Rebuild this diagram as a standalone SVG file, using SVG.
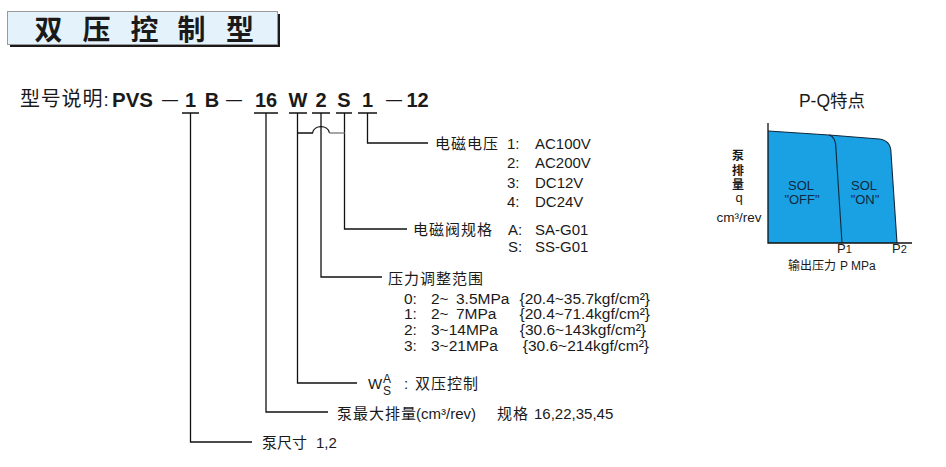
<svg xmlns="http://www.w3.org/2000/svg" width="946" height="467" viewBox="0 0 946 467">
<style>
.cjk{font-family:'Noto Sans CJK SC','Noto Sans CJK JP',sans-serif;fill:#1a1a1a}
.lat{font-family:'Liberation Sans',Arial,'Noto Sans CJK SC',sans-serif;fill:#1a1a1a}
.f15{font-size:15px}
.f13{font-size:13px}
.f12{font-size:12px}
.ls{letter-spacing:1px}
.big{font-size:20px;font-weight:bold}
.ln{stroke:#111;stroke-width:1.3;fill:none}
.cl{stroke:#10283c;stroke-width:1.1;fill:none}
</style>
<rect width="946" height="467" fill="#ffffff"/>

<g id="title">
  <rect x="10" y="14" width="270" height="33" fill="#1a1a1a"/>
  <rect x="7.5" y="11.5" width="270" height="33" fill="#e4f3fb" stroke="#9a9a9a" stroke-width="1"/>
  <g class="cjk" style="font-size:28px;font-weight:bold" text-anchor="middle">
    <text x="48.5" y="40">双</text>
    <text x="96.5" y="40">压</text>
    <text x="144.5" y="40">控</text>
    <text x="191.5" y="40">制</text>
    <text x="240" y="40">型</text>
  </g>
</g>

<g id="model">
  <text class="cjk" x="20" y="106" style="font-size:20px;letter-spacing:0.8px">型号说明</text>
  <text class="lat" x="103.5" y="106" style="font-size:19px">:</text>
  <text class="lat big" x="112" y="107" style="font-size:20.5px">PVS</text>
  <g class="lat" style="font-size:16px">
    <text x="162" y="104.5">—</text>
    <text x="226" y="104.5">—</text>
    <text x="386" y="104.5">—</text>
  </g>
  <g class="lat big" text-anchor="middle">
    <text x="190.5" y="107">1</text>
    <text x="212" y="107">B</text>
    <text x="266" y="107">16</text>
    <text x="298" y="107">W</text>
    <text x="321" y="107">2</text>
    <text x="344" y="107">S</text>
    <text x="367.5" y="107">1</text>
    <text x="417.5" y="107">12</text>
  </g>
</g>

<g id="connectors">
  <path class="ln" d="M182,113 H199 M254,113 H278 M289,113 H307 M312,113 H330 M336,113 H352 M358,113 H377"/>
  <path class="ln" d="M367.5,113 V143 H428"/>
  <path class="ln" d="M344.5,113 V229 H407"/>
  <path class="ln" d="M321,113 V277 H382"/>
  <path class="ln" d="M297.5,113 V383 H357"/>
  <path class="ln" d="M266,113 V412 H328"/>
  <path class="ln" d="M190.5,113 V442 H252"/>
  <path class="ln" d="M297.5,133 H312.5 C314,124.5 328,124.5 329.5,133"/>
  <path d="M329.5,133 H344.5" stroke="#8a8a8a" stroke-width="1.5" fill="none"/>
</g>

<g id="voltage">
  <text class="cjk f15 ls" x="435" y="148.5">电磁电压</text>
  <g class="lat f15">
    <text x="507" y="148.5">1:</text><text x="535" y="148.5">AC100V</text>
    <text x="507" y="168">2:</text><text x="535" y="168">AC200V</text>
    <text x="507" y="187.5">3:</text><text x="535" y="187.5">DC12V</text>
    <text x="507" y="207">4:</text><text x="535" y="207">DC24V</text>
  </g>
</g>

<g id="valve">
  <text class="cjk f15 ls" x="413" y="234.5">电磁阀规格</text>
  <g class="lat f15">
    <text x="508" y="234.5">A:</text><text x="535" y="234.5">SA-G01</text>
    <text x="508" y="251.5">S:</text><text x="535" y="251.5">SS-G01</text>
  </g>
</g>

<g id="pressure">
  <text class="cjk f15 ls" x="388" y="283.5">压力调整范围</text>
  <g class="lat" style="font-size:15.5px">
    <text x="404" y="303.5">0:</text><text x="431" y="303.5">2~</text><text x="456" y="303.5">3.5MPa</text><text x="650" y="303.5" text-anchor="end">{20.4~35.7kgf/cm²}</text>
    <text x="404" y="319.2">1:</text><text x="431" y="319.2">2~</text><text x="456" y="319.2">7MPa</text><text x="650" y="319.2" text-anchor="end">{20.4~71.4kgf/cm²}</text>
    <text x="404" y="335">2:</text><text x="431" y="335">3~14MPa</text><text x="646" y="335" text-anchor="end">{30.6~143kgf/cm²}</text>
    <text x="404" y="350.6">3:</text><text x="431" y="350.6">3~21MPa</text><text x="649" y="350.6" text-anchor="end">{30.6~214kgf/cm²}</text>
  </g>
</g>

<g id="control">
  <text class="lat f15" x="368" y="389">W</text>
  <text class="lat f12" x="383" y="382.5">A</text>
  <text class="lat f12" x="383" y="395">S</text>
  <text class="lat f15" x="404" y="388.5">:</text>
  <text class="cjk f15 ls" x="415" y="388.5">双压控制</text>
</g>

<g id="displacement">
  <text class="cjk f15 ls" x="337" y="418.5">泵最大排量</text>
  <text class="lat f15" x="416" y="418.5">(cm³/rev)</text>
  <text class="cjk f15 ls" x="497" y="418.5">规格</text>
  <text class="lat f15" x="534" y="418.5">16,22,35,45</text>
</g>

<g id="size">
  <text class="cjk f15" x="262" y="447.5">泵尺寸</text>
  <text class="lat f15" x="316" y="447.5">1,2</text>
</g>

<g id="chart">
  <text class="cjk" x="832" y="107" text-anchor="middle" style="font-size:17.5px"><tspan class="lat">P-Q</tspan>特点</text>
  <path d="M768,131 L829,135 L879,139 C888,140 891,145 891,153 L897,243 L768,243 Z" fill="#1aa1e4"/>
  <path class="cl" d="M768,131 L829,135 L879,139 C888,140 891,145 891,153 L897,243"/>
  <path class="cl" d="M829,135 C834,136 836,141 836,150 L842,243"/>
  <path class="ln" d="M768,123 V243 H912"/>
  <g class="cjk" text-anchor="middle" style="font-size:12px;font-weight:bold">
    <text x="738" y="160">泵</text>
    <text x="738" y="174.5">排</text>
    <text x="738" y="189">量</text>
  </g>
  <text class="lat f13" x="739" y="202" text-anchor="middle">q</text>
  <text class="lat" x="739" y="222" text-anchor="middle" style="font-size:13.5px">cm³/rev</text>
  <g class="lat f13" text-anchor="middle" style="fill:#10283c">
    <text x="801" y="190">SOL</text>
    <text x="802" y="203.5">"OFF"</text>
    <text x="864" y="190">SOL</text>
    <text x="865" y="203.5">"ON"</text>
  </g>
  <text class="lat" x="837" y="253" style="font-size:13px">P<tspan style="font-size:11px">1</tspan></text>
  <text class="lat" x="892" y="253" style="font-size:13px">P<tspan style="font-size:11px">2</tspan></text>
  <text class="cjk f12" x="788" y="270">输出压力</text>
  <text class="lat f12" x="840" y="270">P MPa</text>
</g>
</svg>
